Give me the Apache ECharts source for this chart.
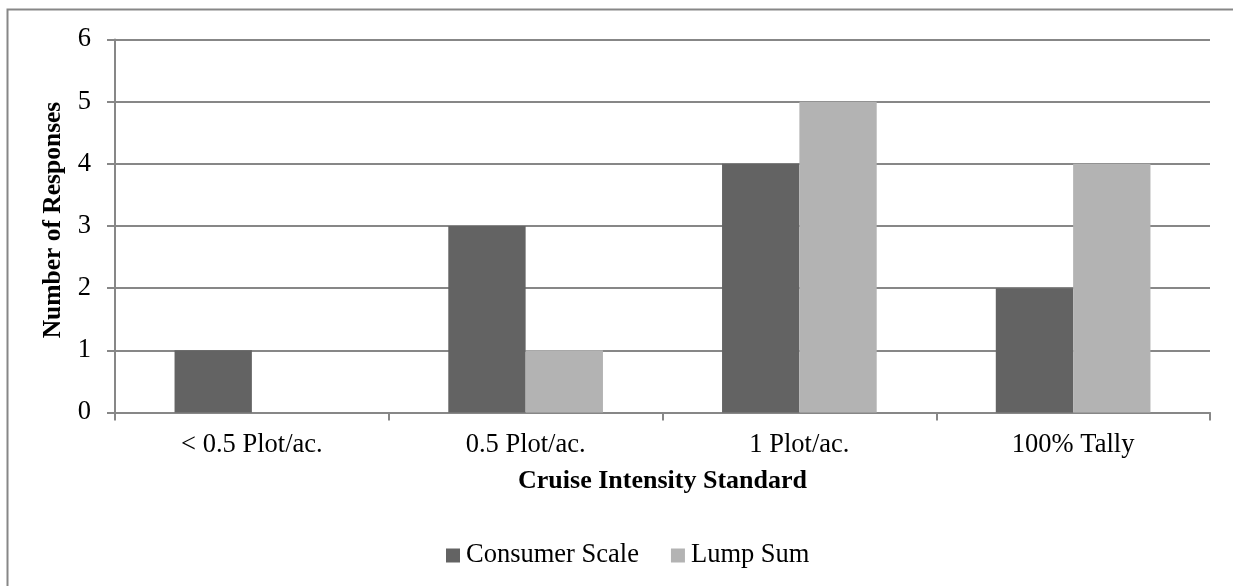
<!DOCTYPE html>
<html>
<head>
<meta charset="utf-8">
<script src="https://cdn.jsdelivr.net/npm/echarts@6/dist/echarts.min.js"></script>
<style>
  html, body { margin: 0; padding: 0; background: #fff; }
  #chart { width: 1233px; height: 586px; }
</style>
</head>
<body>
<div id="chart"></div>
<script>
// Survey responses by cruise intensity standard
const categories = ['< 0.5 Plot/ac.', '0.5 Plot/ac.', '1 Plot/ac.', '100% Tally'];
const consumerScale = [1, 3, 4, 2];
const lumpSum = [0, 1, 5, 4];
const yTicks = { min: 0, max: 6, interval: 1 };

const FONT = '"Liberation Serif", "Times New Roman", serif';
const LINE = '#878787';

const chart = echarts.init(document.getElementById('chart'), null, { renderer: 'canvas' });

chart.setOption({
  backgroundColor: '#ffffff',
  animation: false,
  textStyle: { fontFamily: FONT, color: '#000' },
  graphic: [{
    type: 'rect',
    shape: { x: 7.5, y: 9.5, width: 1400, height: 800 },
    style: { fill: 'none', stroke: LINE, lineWidth: 2 },
    silent: true,
    z: -1
  }],
  grid: { left: 115, right: 23, top: 39.5, bottom: 173.5, containLabel: false },
  legend: {
    left: 441,
    top: 537,
    icon: 'rect',
    itemWidth: 14,
    itemHeight: 14,
    itemGap: 32,
    textStyle: { fontFamily: FONT, fontSize: 26.5, color: '#000', padding: [0, 0, 0, 1] },
    data: ['Consumer Scale', 'Lump Sum']
  },
  xAxis: {
    type: 'category',
    data: categories,
    name: 'Cruise Intensity Standard',
    nameLocation: 'middle',
    nameGap: 56,
    nameTextStyle: { fontFamily: FONT, fontSize: 26, fontWeight: 'bold', color: '#000' },
    axisLine: { lineStyle: { color: LINE, width: 2 } },
    axisTick: { show: true, alignWithLabel: false, length: 8, lineStyle: { color: LINE, width: 2 } },
    axisLabel: { fontFamily: FONT, fontSize: 26.5, color: '#000', margin: 19 },
    splitLine: { show: false }
  },
  yAxis: {
    type: 'value',
    min: yTicks.min,
    max: yTicks.max,
    interval: yTicks.interval,
    name: 'Number of Responses',
    nameLocation: 'middle',
    nameRotate: 90,
    nameGap: 46,
    nameTextStyle: { fontFamily: FONT, fontSize: 25.5, fontWeight: 'bold', color: '#000', padding: [0, 0, 0, 12] },
    axisLine: { show: true, lineStyle: { color: LINE, width: 2 } },
    axisTick: { show: true, length: 8, lineStyle: { color: LINE, width: 2 } },
    axisLabel: { fontFamily: FONT, fontSize: 26.5, color: '#000', margin: 24 },
    splitLine: { show: true, lineStyle: { color: LINE, width: 2 } }
  },
  series: [
    {
      name: 'Consumer Scale',
      type: 'bar',
      data: consumerScale,
      barGap: '0%',
      barCategoryGap: '43.5%',
      itemStyle: { color: '#636363' }
    },
    {
      name: 'Lump Sum',
      type: 'bar',
      data: lumpSum,
      barGap: '0%',
      barCategoryGap: '43.5%',
      itemStyle: { color: '#b3b3b3' }
    }
  ]
});
</script>
</body>
</html>
